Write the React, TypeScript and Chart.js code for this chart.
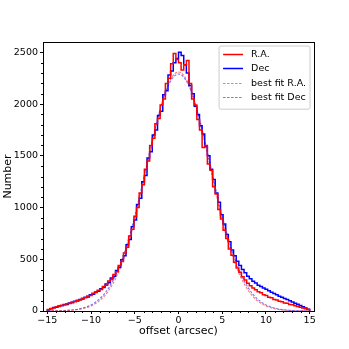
import React, { useEffect, useRef } from "react";
import { Chart, registerables } from "chart.js";

Chart.register(...registerables);

// Histogram bins: 100 bins of width 0.3 arcsec starting at -15
const binStart = -15;
const binWidth = 0.3;

const raCounts = [
  14, 24, 30, 42, 44, 56, 58, 70, 72, 88, 90, 104, 106, 124, 128, 146, 150, 172, 178, 200,
  208, 238, 250, 290, 305, 352, 380, 440, 478, 560, 615, 725, 790, 915, 1000, 1140, 1220, 1370, 1450, 1600,
  1670, 1810, 1860, 1990, 2050, 2200, 2250, 2390, 2490, 2430,
  2400, 2330, 2380, 2420, 2200, 2050, 1990, 1850, 1750, 1580, 1600, 1420, 1360, 1200, 1130, 980, 890, 780, 700, 600,
  540, 470, 415, 375, 330, 300, 268, 245, 222, 205, 185, 176, 158, 150, 134, 128, 112, 106, 94, 90,
  78, 74, 62, 60, 50, 44, 36, 30, 22, 14,
];

const decCounts = [
  12, 22, 34, 36, 48, 50, 62, 64, 78, 80, 94, 96, 112, 116, 132, 136, 156, 162, 184, 190,
  216, 228, 260, 272, 318, 336, 392, 420, 495, 535, 640, 690, 815, 880, 1030, 1090, 1250, 1310, 1480, 1540,
  1700, 1750, 1890, 1930, 2090, 2130, 2280, 2320, 2400, 2440,
  2500, 2470, 2380, 2300, 2180, 2100, 1980, 1900, 1790, 1710, 1590, 1500, 1370, 1270, 1140, 1050, 930, 840, 740, 670,
  590, 535, 480, 440, 400, 370, 335, 312, 288, 270, 250, 238, 222, 210, 195, 182, 168, 156, 142, 132,
  120, 110, 98, 88, 76, 66, 54, 42, 30, 18,
];

// Best-fit curves sampled every 0.5 arcsec
const fitX = [
  -15, -14.5, -14, -13.5, -13, -12.5, -12, -11.5, -11, -10.5, -10, -9.5, -9, -8.5, -8, -7.5, -7, -6.5, -6, -5.5,
  -5, -4.5, -4, -3.5, -3, -2.5, -2, -1.5, -1, -0.5, 0, 0.5, 1, 1.5, 2, 2.5, 3, 3.5, 4, 4.5,
  5, 5.5, 6, 6.5, 7, 7.5, 8, 8.5, 9, 9.5, 10, 10.5, 11, 11.5, 12, 12.5, 13, 13.5, 14, 14.5, 15,
];
const fitRA = [
  0, 1, 1, 2, 3, 6, 9, 14, 22, 33, 49, 71, 101, 142, 196, 264, 349, 453, 576, 719,
  881, 1057, 1246, 1440, 1632, 1815, 1980, 2118, 2223, 2288, 2310, 2288, 2223, 2118, 1980, 1815, 1632, 1440, 1246, 1057,
  881, 719, 576, 453, 349, 264, 196, 142, 101, 71, 49, 33, 22, 14, 9, 6, 3, 2, 1, 1, 0,
];
const fitDec = [
  0, 1, 2, 3, 5, 8, 12, 18, 28, 41, 59, 85, 119, 164, 221, 294, 382, 489, 615, 759,
  919, 1093, 1276, 1464, 1649, 1823, 1979, 2109, 2208, 2269, 2290, 2269, 2208, 2109, 1979, 1823, 1649, 1464, 1276, 1093,
  919, 759, 615, 489, 382, 294, 221, 164, 119, 85, 59, 41, 28, 18, 12, 8, 5, 3, 2, 1, 0,
];

const xTicks = [-15, -10, -5, 0, 5, 10, 15];
const yTicks = [0, 500, 1000, 1500, 2000, 2500];

const legendLabels = ["R.A.", "Dec", "best fit R.A.", "best fit Dec"];

const FONT = "'DejaVu Sans', sans-serif";

function stepPoints(counts: number[]) {
  const pts: { x: number; y: number }[] = [];
  pts.push({ x: binStart, y: 0 });
  counts.forEach((c, i) => pts.push({ x: binStart + i * binWidth, y: c }));
  const end = binStart + counts.length * binWidth;
  pts.push({ x: end, y: counts[counts.length - 1] });
  pts.push({ x: end, y: 0 });
  return pts;
}

const framePlugin = {
  id: "frameAndMinor",
  afterDraw(chart: any) {
    const { ctx, chartArea } = chart;
    const xs = chart.scales.x;
    const ys = chart.scales.y;
    ctx.save();
    ctx.strokeStyle = "#000";
    ctx.lineWidth = 1;
    ctx.beginPath();
    for (let v = -15; v <= 15; v += 1) {
      if (v % 5 === 0) continue;
      const px = Math.round(xs.getPixelForValue(v)) + 0.5;
      ctx.moveTo(px, chartArea.bottom);
      ctx.lineTo(px, chartArea.bottom + 2);
    }
    for (let v = 100; v < 2600; v += 100) {
      if (v % 500 === 0) continue;
      const py = Math.round(ys.getPixelForValue(v)) + 0.5;
      ctx.moveTo(chartArea.left, py);
      ctx.lineTo(chartArea.left - 2, py);
    }
    ctx.stroke();
    ctx.strokeRect(
      Math.round(chartArea.left) + 0.5,
      Math.round(chartArea.top) + 0.5,
      Math.round(chartArea.right - chartArea.left),
      Math.round(chartArea.bottom - chartArea.top)
    );
    ctx.restore();
  },
};

const legendPlugin = {
  id: "boxLegend",
  afterDraw(chart: any) {
    const { ctx, chartArea } = chart;
    const ds = chart.data.datasets;
    ctx.save();
    ctx.font = `9.5px ${FONT}`;
    let maxW = 0;
    legendLabels.forEach((t) => (maxW = Math.max(maxW, ctx.measureText(t).width)));
    const rowH = 14.3;
    const w = 32 + maxW + 4;
    const h = rowH * legendLabels.length + 6;
    const right = chartArea.right - 4;
    const left = right - w;
    const top = chartArea.top + 4;
    ctx.beginPath();
    const r = 2;
    ctx.moveTo(left + r, top);
    ctx.lineTo(left + w - r, top);
    ctx.quadraticCurveTo(left + w, top, left + w, top + r);
    ctx.lineTo(left + w, top + h - r);
    ctx.quadraticCurveTo(left + w, top + h, left + w - r, top + h);
    ctx.lineTo(left + r, top + h);
    ctx.quadraticCurveTo(left, top + h, left, top + h - r);
    ctx.lineTo(left, top + r);
    ctx.quadraticCurveTo(left, top, left + r, top);
    ctx.closePath();
    ctx.fillStyle = "rgba(255,255,255,0.85)";
    ctx.fill();
    ctx.strokeStyle = "#cccccc";
    ctx.lineWidth = 1;
    ctx.stroke();
    legendLabels.forEach((t, i) => {
      const y = top + 8 + i * rowH;
      const d = ds[i];
      ctx.beginPath();
      ctx.strokeStyle = d.borderColor;
      ctx.lineWidth = d.borderWidth;
      ctx.setLineDash(d.borderDash || []);
      ctx.moveTo(left + 4, Math.round(y) + 0.5);
      ctx.lineTo(left + 24, Math.round(y) + 0.5);
      ctx.stroke();
      ctx.setLineDash([]);
      ctx.fillStyle = "#000";
      ctx.textBaseline = "middle";
      ctx.textAlign = "left";
      ctx.fillText(t, left + 32, y + 0.5);
    });
    ctx.restore();
  },
};

const fmt = (v: number) => (v < 0 ? "\u2212" + Math.abs(v) : String(v));

export default function App() {
  const ref = useRef<HTMLCanvasElement | null>(null);
  useEffect(() => {
    if (!ref.current) return;
    const chart = new Chart(ref.current, {
      type: "line",
      data: {
        datasets: [
          {
            label: legendLabels[0],
            data: stepPoints(raCounts),
            borderColor: "#ff0000",
            borderWidth: 1.5,
            stepped: "before",
            pointRadius: 0,
            fill: false,
          },
          {
            label: legendLabels[1],
            data: stepPoints(decCounts),
            borderColor: "#0000ff",
            borderWidth: 1.5,
            stepped: "before",
            pointRadius: 0,
            fill: false,
          },
          {
            label: legendLabels[2],
            data: fitX.map((x, i) => ({ x, y: fitRA[i] })),
            borderColor: "rgba(255,0,0,0.55)",
            borderWidth: 1.1,
            borderDash: [2.5, 1.5],
            pointRadius: 0,
            cubicInterpolationMode: "monotone",
            fill: false,
          },
          {
            label: legendLabels[3],
            data: fitX.map((x, i) => ({ x, y: fitDec[i] })),
            borderColor: "rgba(0,0,255,0.55)",
            borderWidth: 1.1,
            borderDash: [2.5, 1.5],
            pointRadius: 0,
            cubicInterpolationMode: "monotone",
            fill: false,
          },
        ],
      },
      options: {
        animation: false,
        responsive: false,
        events: [],
        layout: { padding: { left: 0, top: 42, right: 35, bottom: 0 } },
        plugins: { legend: { display: false }, tooltip: { enabled: false } },
        scales: {
          x: {
            type: "linear",
            min: -15.5,
            max: 15.5,
            afterFit: (s: any) => {
              s.height = 38;
            },
            afterBuildTicks: (s: any) => {
              s.ticks = xTicks.map((v) => ({ value: v }));
            },
            ticks: {
              color: "#000",
              font: { family: FONT, size: 9.5 },
              padding: 1,
              maxRotation: 0,
              callback: (v: any) => fmt(Number(v)),
            },
            grid: { drawOnChartArea: false, drawTicks: true, tickLength: 3, color: "#000" },
            border: { display: true, color: "#000" },
            title: {
              display: true,
              text: "offset (arcsec)",
              color: "#000",
              font: { family: FONT, size: 11 },
              padding: { top: 0, bottom: 11 },
            },
          },
          y: {
            type: "linear",
            min: 0,
            max: 2600,
            afterFit: (s: any) => {
              s.width = 43;
            },
            afterBuildTicks: (s: any) => {
              s.ticks = yTicks.map((v) => ({ value: v }));
            },
            ticks: {
              color: "#000",
              font: { family: FONT, size: 9.5 },
              padding: 2,
              callback: (v: any) => fmt(Number(v)),
            },
            grid: { drawOnChartArea: false, drawTicks: true, tickLength: 3, color: "#000" },
            border: { display: true, color: "#000" },
            title: {
              display: true,
              text: "Number",
              color: "#000",
              font: { family: FONT, size: 11 },
              padding: { top: 2, bottom: 0 },
            },
          },
        },
      },
      plugins: [framePlugin, legendPlugin],
    } as any);
    return () => chart.destroy();
  }, []);
  return (
    <div style={{ position: "fixed", left: 0, top: 0, width: 349, height: 349, background: "#fff" }}>
      <canvas ref={ref} width={349} height={349} style={{ width: 349, height: 349 }} />
    </div>
  );
}
